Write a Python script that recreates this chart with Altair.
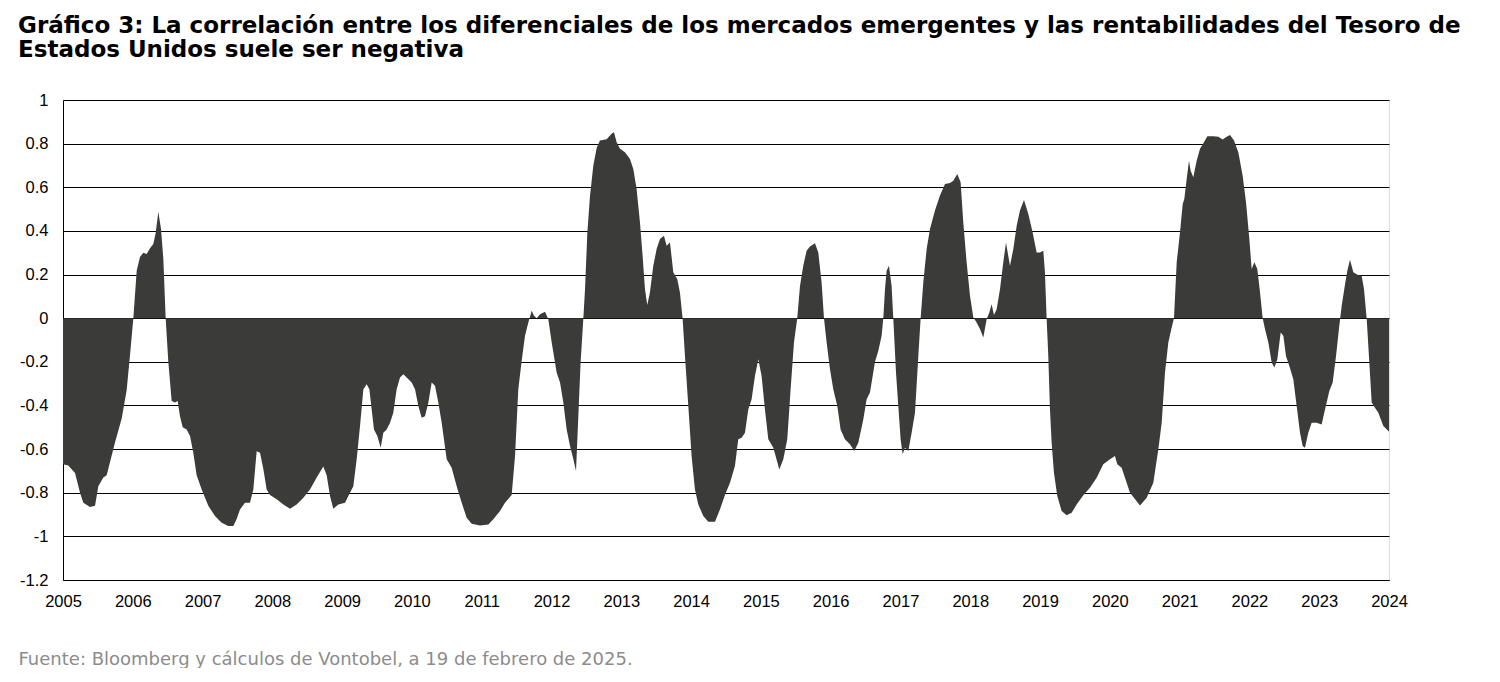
import altair as alt
import pandas as pd

# Decimal years and correlation values
years = [
    2005.000, 2005.076, 2005.172, 2005.244, 2005.291, 2005.387, 2005.459, 2005.506, 2005.578, 2005.626,
    2005.673, 2005.745, 2005.841, 2005.912, 2005.960, 2006.008, 2006.056, 2006.103, 2006.151, 2006.199,
    2006.247, 2006.294, 2006.328, 2006.366, 2006.404, 2006.438, 2006.471, 2006.509, 2006.557, 2006.605,
    2006.643, 2006.676, 2006.715, 2006.772, 2006.820, 2006.867, 2006.915, 2006.987, 2007.082, 2007.178,
    2007.273, 2007.369, 2007.441, 2007.488, 2007.536, 2007.608, 2007.679, 2007.727, 2007.775, 2007.823,
    2007.870, 2007.918, 2007.966, 2008.062, 2008.157, 2008.253, 2008.348, 2008.444, 2008.539, 2008.635,
    2008.730, 2008.778, 2008.826, 2008.873, 2008.945, 2009.041,
    # 2009 - 2012
    2009.089, 2009.160, 2009.208, 2009.256, 2009.304, 2009.351, 2009.390, 2009.423, 2009.456, 2009.504,
    2009.552, 2009.590, 2009.638, 2009.686, 2009.733, 2009.781, 2009.829, 2009.877, 2009.924, 2009.996,
    2010.044, 2010.092, 2010.139, 2010.187, 2010.235, 2010.283, 2010.330, 2010.378, 2010.426, 2010.498,
    2010.569, 2010.641, 2010.713, 2010.784, 2010.856, 2010.975, 2011.095, 2011.166, 2011.262, 2011.333,
    2011.429, 2011.477, 2011.524, 2011.572, 2011.620, 2011.668, 2011.716, 2011.749, 2011.787, 2011.835,
    2011.907, 2011.954, 2012.002, 2012.074, 2012.122, 2012.169, 2012.217, 2012.265, 2012.313, 2012.351,
    2012.384, 2012.417, 2012.456, 2012.480, 2012.513, 2012.551, 2012.599, 2012.647,
    # 2012.7 - 2016.5
    2012.694, 2012.790, 2012.861, 2012.895, 2012.933, 2012.981, 2013.052, 2013.124, 2013.172, 2013.219,
    2013.267, 2013.305, 2013.339, 2013.372, 2013.410, 2013.458, 2013.506, 2013.554, 2013.611, 2013.649,
    2013.697, 2013.745, 2013.802, 2013.840, 2013.878, 2013.912, 2013.960, 2014.007, 2014.055, 2014.103,
    2014.175, 2014.246, 2014.342, 2014.413, 2014.485, 2014.557, 2014.628, 2014.676, 2014.724, 2014.772,
    2014.819, 2014.867, 2014.915, 2014.963, 2015.010, 2015.058, 2015.106, 2015.178, 2015.264, 2015.321,
    2015.378, 2015.426, 2015.474, 2015.521, 2015.560, 2015.607, 2015.655, 2015.703, 2015.775, 2015.822,
    2015.870, 2015.904, 2015.942, 2015.990, 2016.037, 2016.095, 2016.142, 2016.204, 2016.276, 2016.338,
    2016.396, 2016.467, 2016.515,
    # 2016.5 - 2020.2
    2016.563, 2016.635, 2016.682, 2016.730, 2016.754, 2016.778, 2016.802, 2016.835, 2016.873, 2016.897,
    2016.936, 2016.969, 2017.002, 2017.031, 2017.064, 2017.112, 2017.160, 2017.208, 2017.256, 2017.289,
    2017.327, 2017.375, 2017.423, 2017.494, 2017.566, 2017.638, 2017.709, 2017.757, 2017.814, 2017.862,
    2017.900, 2017.948, 2017.996, 2018.044, 2018.091, 2018.139, 2018.187, 2018.235, 2018.273, 2018.306,
    2018.340, 2018.378, 2018.426, 2018.473, 2018.512, 2018.569, 2018.617, 2018.665, 2018.712, 2018.770,
    2018.832, 2018.894, 2018.951, 2018.999, 2019.047, 2019.070, 2019.094, 2019.118, 2019.142, 2019.166,
    2019.199, 2019.247, 2019.309, 2019.381, 2019.453, 2019.524, 2019.620, 2019.715, 2019.811, 2019.906,
    2020.002, 2020.073, 2020.107, 2020.169, 2020.241,
    # 2020.3 - 2024
    2020.289, 2020.432, 2020.528, 2020.623, 2020.695, 2020.743, 2020.790, 2020.838, 2020.886, 2020.919,
    2020.958, 2021.005, 2021.044, 2021.067, 2021.101, 2021.134, 2021.158, 2021.196, 2021.244, 2021.292,
    2021.349, 2021.397, 2021.483, 2021.555, 2021.617, 2021.674, 2021.722, 2021.779, 2021.841, 2021.903,
    2021.951, 2021.999, 2022.032, 2022.071, 2022.113, 2022.152, 2022.190, 2022.223, 2022.271, 2022.319,
    2022.357, 2022.400, 2022.448, 2022.486, 2022.524, 2022.572, 2022.629, 2022.677, 2022.725, 2022.763,
    2022.796, 2022.844, 2022.892, 2022.964, 2023.035, 2023.083, 2023.145, 2023.193, 2023.241, 2023.288,
    2023.322, 2023.370, 2023.403, 2023.441, 2023.489, 2023.561, 2023.608, 2023.642, 2023.680, 2023.718,
    2023.752, 2023.799, 2023.847, 2023.919, 2023.991, 2024.000,
]

values = [
    -0.67, -0.675, -0.71, -0.80, -0.846, -0.865, -0.86, -0.77, -0.73, -0.72,
    -0.66, -0.57, -0.46, -0.33, -0.17, 0.0, 0.217, 0.28, 0.30, 0.294,
    0.32, 0.34, 0.39, 0.488, 0.41, 0.27, 0.0, -0.20, -0.38, -0.387,
    -0.38, -0.45, -0.50, -0.51, -0.54, -0.617, -0.72, -0.785, -0.86, -0.907,
    -0.938, -0.953, -0.953, -0.92, -0.877, -0.846, -0.846, -0.785, -0.61, -0.617,
    -0.69, -0.785, -0.81, -0.83, -0.854, -0.874, -0.854, -0.823, -0.785, -0.73,
    -0.68, -0.72, -0.815, -0.874, -0.854, -0.846,
    # 2009 - 2012
    -0.815, -0.77, -0.647, -0.494, -0.326, -0.303, -0.326, -0.418, -0.51, -0.54,
    -0.594, -0.525, -0.51, -0.479, -0.433, -0.326, -0.272, -0.257, -0.272, -0.295,
    -0.326, -0.402, -0.456, -0.449, -0.387, -0.295, -0.31, -0.387, -0.479, -0.647,
    -0.685, -0.77, -0.846, -0.915, -0.942, -0.95, -0.946, -0.922, -0.884, -0.846,
    -0.81, -0.632, -0.326, -0.196, -0.081, -0.02, 0.034, 0.011, 0.0, 0.018,
    0.029, -0.005, -0.11, -0.25, -0.295, -0.387, -0.51, -0.586, -0.647, -0.70,
    -0.45, -0.2, 0.0, 0.133, 0.39, 0.56, 0.70, 0.78,
    # 2012.7 - 2016.5
    0.814, 0.82, 0.845, 0.852, 0.806, 0.776, 0.76, 0.73, 0.684, 0.592,
    0.44, 0.286, 0.133, 0.06, 0.118, 0.24, 0.317, 0.363, 0.378, 0.332,
    0.347, 0.21, 0.179, 0.118, 0.0, -0.173, -0.402, -0.632, -0.785, -0.854,
    -0.907, -0.933, -0.933, -0.877, -0.81, -0.754, -0.678, -0.555, -0.548, -0.525,
    -0.418, -0.372, -0.265, -0.188, -0.265, -0.418, -0.555, -0.594, -0.693, -0.647,
    -0.555, -0.326, -0.112, 0.0, 0.148, 0.24, 0.309, 0.329, 0.344, 0.301,
    0.164, 0.0, -0.112, -0.234, -0.326, -0.402, -0.51, -0.555, -0.578, -0.609,
    -0.571, -0.464, -0.372,
    # 2016.5 - 2020.2
    -0.341, -0.20, -0.15, -0.081, 0.0, 0.133, 0.217, 0.24, 0.148, 0.0,
    -0.25, -0.402, -0.555, -0.624, -0.594, -0.609, -0.525, -0.433, -0.173, 0.0,
    0.164, 0.317, 0.409, 0.493, 0.562, 0.615, 0.62, 0.63, 0.661, 0.623,
    0.44, 0.256, 0.103, 0.003, -0.02, -0.05, -0.089, -0.005, 0.026, 0.064,
    0.015, 0.041, 0.133, 0.256, 0.347, 0.24, 0.317, 0.424, 0.493, 0.542,
    0.477, 0.393, 0.301, 0.301, 0.309, 0.21, 0.0, -0.173, -0.418, -0.571,
    -0.708, -0.815, -0.884, -0.903, -0.892, -0.854, -0.812, -0.777, -0.731, -0.67,
    -0.647, -0.632, -0.67, -0.685, -0.754,
    # 2020.3 - 2024
    -0.80, -0.858, -0.823, -0.754, -0.601, -0.479, -0.25, -0.112, -0.043, 0.0,
    0.256, 0.393, 0.523, 0.546, 0.638, 0.722, 0.676, 0.646, 0.722, 0.776,
    0.806, 0.834, 0.834, 0.832, 0.819, 0.832, 0.84, 0.814, 0.76, 0.653,
    0.531, 0.363, 0.225, 0.256, 0.225, 0.118, 0.0, -0.05, -0.112, -0.203,
    -0.226, -0.188, -0.066, -0.081, -0.173, -0.219, -0.28, -0.402, -0.525, -0.586,
    -0.594, -0.525, -0.479, -0.479, -0.487, -0.418, -0.334, -0.295, -0.173, -0.035,
    0.057, 0.156, 0.217, 0.268, 0.21, 0.197, 0.194, 0.133, 0.0, -0.203,
    -0.387, -0.41, -0.433, -0.494, -0.517, -0.52,
]

x_ticks = list(range(2005, 2025))
y_ticks = [-1.2, -1.0, -0.8, -0.6, -0.4, -0.2, 0.0, 0.2, 0.4, 0.6, 0.8, 1.0]

title_lines = [
    "Gráfico 3: La correlación entre los diferenciales de los mercados emergentes y las rentabilidades del Tesoro de",
    "Estados Unidos suele ser negativa",
]
source_note = "Fuente: Bloomberg y cálculos de Vontobel, a 19 de febrero de 2025."

df = pd.DataFrame({"year": years, "value": values})

FONT = "Liberation Sans, Arial, Helvetica, sans-serif"
WIDE_FONT = "DejaVu Sans, Verdana, sans-serif"

chart = (
    alt.Chart(df)
    .mark_area(color="#3b3c3a", interpolate="linear")
    .encode(
        x=alt.X(
            "year:Q",
            scale=alt.Scale(domain=[2005, 2024], nice=False, zero=False),
            axis=alt.Axis(
                values=x_ticks,
                format="d",
                grid=False,
                ticks=False,
                tickSize=0,
                domain=True,
                domainColor="black",
                domainWidth=1,
                labelFontSize=16.5,
                labelColor="black",
                labelFont=FONT,
                labelPadding=13,
                labelOverlap=False,
                labelFlush=False,
                labelBound=False,
                title=source_note,
                titleFont=WIDE_FONT,
                titleFontSize=18,
                titleFontWeight="normal",
                titleColor="#8c8c8c",
                titleAlign="left",
                titleAnchor="start",
                titleBaseline="alphabetic",
                titleX=-45,
                titleY=84,
            ),
        ),
        y=alt.Y(
            "value:Q",
            scale=alt.Scale(domain=[-1.2, 1.0], nice=False, zero=True),
            axis=alt.Axis(
                values=y_ticks,
                labelExpr="'' + datum.value",
                grid=True,
                gridColor="black",
                gridWidth=1,
                gridOpacity=1,
                ticks=False,
                tickSize=0,
                domain=True,
                domainColor="black",
                domainWidth=1,
                labelFontSize=16.5,
                labelColor="black",
                labelFont=FONT,
                labelPadding=15,
                labelOverlap=False,
                labelBound=False,
                labelFlush=False,
                title=None,
            ),
        ),
    )
    .properties(
        width=1326,
        height=480,
        autosize=alt.AutoSizeParams(type="none"),
        padding={"left": 55, "top": 92, "right": 100, "bottom": 88},
        title=alt.TitleParams(
            text=title_lines,
            anchor="start",
            frame="group",
            dx=-45,
            font=WIDE_FONT,
            fontSize=23,
            fontWeight="bold",
            color="black",
            lineHeight=23.7,
            offset=30,
        ),
    )
    .configure_view(stroke=None)
    .configure(background="white")
)

chart.save("out.html", embed_options={"renderer": "svg", "actions": False})
